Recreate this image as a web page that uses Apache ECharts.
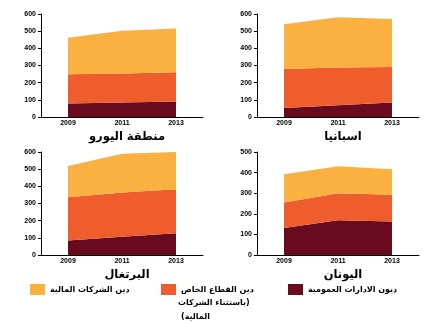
<!DOCTYPE html>
<html>
<head>
<meta charset="utf-8">
<script src="https://cdn.jsdelivr.net/npm/echarts@6/dist/echarts.min.js"></script>
<style>
html,body{margin:0;padding:0;background:#fff;}
#c{width:432px;height:323px;}
</style>
</head>
<body>
<div id="c"></div>
<script>
// ---- data ----
const years = ['2009', '2011', '2013'];
const panelTitles = ['منطقة اليورو', 'اسبانيا', 'البرتغال', 'اليونان'];
const yMaxes = [600, 600, 600, 500];
const seriesNames = ['ديون الادارات العمومية', 'دين القطاع الخاص (باستثناء الشركات المالية)', 'دين الشركات المالية'];
const privLegendLines = ['دين القطاع الخاص', '\u200F(باستثناء الشركات', 'المالية)\u200F'];

const euroGov = [78, 85, 91];
const euroPriv = [171, 169, 169];
const euroFin = [213, 249, 256];

const spainGov = [52, 68, 85];
const spainPriv = [228, 221, 206];
const spainFin = [260, 292, 280];

const portGov = [85, 106, 126];
const portPriv = [252, 258, 257];
const portFin = [182, 226, 217];

const greeceGov = [131, 169, 163];
const greecePriv = [124, 131, 129];
const greeceFin = [137, 131, 124];

// ---- layout / style ----
const panels = [
  [euroGov, euroPriv, euroFin],
  [spainGov, spainPriv, spainFin],
  [portGov, portPriv, portFin],
  [greeceGov, greecePriv, greeceFin]
];
const colors = ['#690A1F', '#F05D2C', '#FBB042'];
const gridPos = [
  {left: 41, top: 14},
  {left: 257, top: 14},
  {left: 41, top: 152},
  {left: 257, top: 152}
];
const W = 162, H = 103;
const numFont = "'Liberation Sans Narrow', 'Liberation Sans', Arial, sans-serif";
const arFont = "'DejaVu Sans', 'Noto Sans', sans-serif";

const grid = [], xAxis = [], yAxis = [], series = [], title = [];
gridPos.forEach((g, i) => {
  grid.push({left: g.left, top: g.top, width: W, height: H, containLabel: false});
  xAxis.push({
    type: 'category', gridIndex: i, data: years, boundaryGap: true,
    axisLine: {lineStyle: {color: '#000', width: 1}},
    axisTick: {show: false},
    axisLabel: {color: '#000', fontFamily: numFont, fontSize: 7, fontWeight: 'bold', margin: 3}
  });
  yAxis.push({
    type: 'value', gridIndex: i, min: 0, max: yMaxes[i], interval: 100,
    splitLine: {show: false},
    axisLine: {show: true, lineStyle: {color: '#000', width: 1}},
    axisTick: {show: true, length: 3, lineStyle: {color: '#000'}},
    axisLabel: {color: '#000', fontFamily: numFont, fontSize: 7, fontWeight: 'bold', margin: 5}
  });
  panels[i].forEach((vals, k) => {
    series.push({
      type: 'line', name: seriesNames[k], xAxisIndex: i, yAxisIndex: i,
      stack: 'p' + i, data: vals, symbol: 'none',
      lineStyle: {width: 0}, itemStyle: {color: colors[k]},
      areaStyle: {color: colors[k], opacity: 1},
      emphasis: {disabled: true}, silent: true
    });
  });
  title.push({
    text: panelTitles[i], left: g.left + W / 2, top: g.top + H + 9, textAlign: 'center',
    textStyle: {fontFamily: arFont, fontSize: 11.5, fontWeight: 'bold', color: '#000'}
  });
});

const legendText = {fontFamily: arFont, fontSize: 8, fontWeight: 'bold', color: '#000'};
const legendBase = {
  orient: 'horizontal', icon: 'rect', itemWidth: 15, itemHeight: 11,
  selectedMode: false, padding: 0,
  textStyle: legendText
};
const legend = [
  Object.assign({}, legendBase, {left: 30, top: 284, data: [seriesNames[2]]}),
  Object.assign({}, legendBase, {
    left: 161, top: 284, data: [seriesNames[1]],
    formatter: () => privLegendLines[0]
  }),
  Object.assign({}, legendBase, {left: 288, top: 284, data: [seriesNames[0]]})
];

const graphic = [
  {type: 'text', left: 178, top: 299, silent: true,
   style: {text: privLegendLines[1], font: "bold 8px 'DejaVu Sans'", fill: '#000'}},
  {type: 'text', left: 181, top: 313, silent: true,
   style: {text: privLegendLines[2], font: "bold 8px 'DejaVu Sans'", fill: '#000'}}
];

const chart = echarts.init(document.getElementById('c'), null, {renderer: 'canvas'});
chart.setOption({
  animation: false,
  backgroundColor: '#fff',
  title, grid, xAxis, yAxis, series, legend, graphic
});
</script>
</body>
</html>
